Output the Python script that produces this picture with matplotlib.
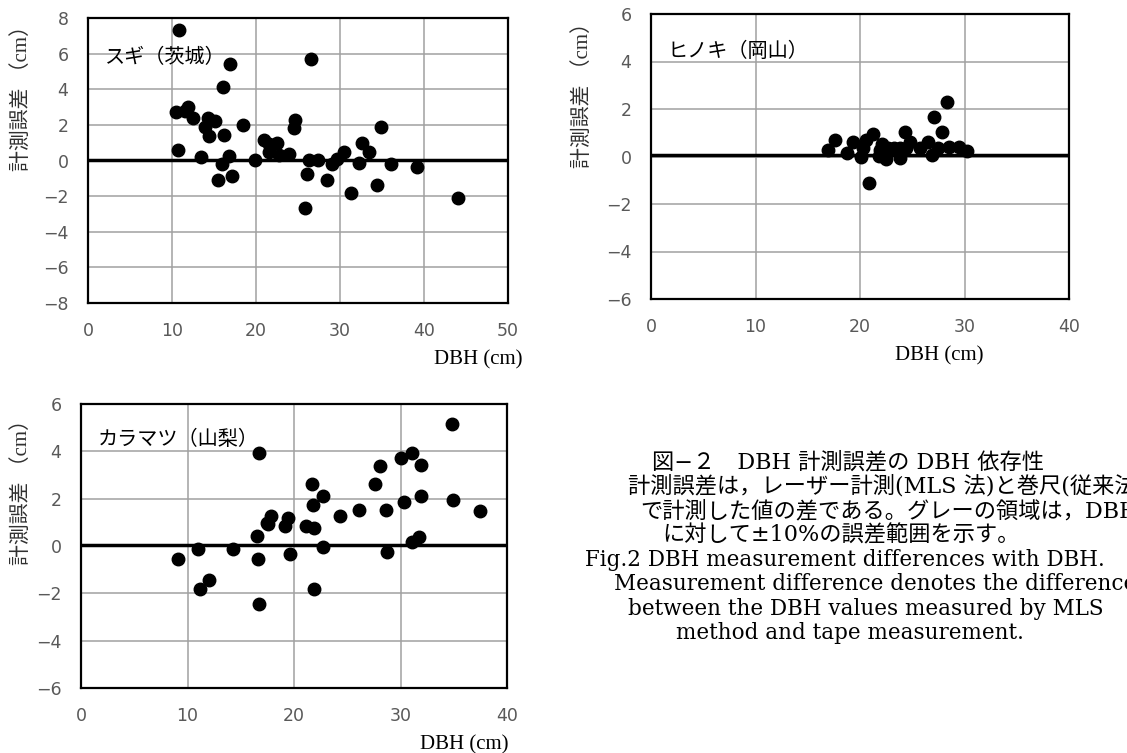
import matplotlib.pyplot as plt

plt.rcParams['font.family'] = ['DejaVu Sans', 'Noto Sans CJK JP']

# スギ(茨城)
sugi_dbh = [10.8, 10.5, 11.5, 11.9, 12.5, 10.7, 16.9, 16.1, 14.3, 15.1, 13.9, 14.4, 16.2, 18.4,
            13.5, 15.9, 16.8, 15.5, 17.1, 19.9, 20.9, 21.6, 21.6, 22.5, 22.7, 23.9, 24.7, 24.5,
            26.5, 26.3, 26.1, 27.4, 25.8, 28.5, 29.0, 29.7, 30.5, 31.3, 32.3, 32.6, 33.4, 34.4,
            34.9, 36.1, 39.2, 44.1]
sugi_err = [7.3, 2.7, 2.8, 3.0, 2.4, 0.6, 5.4, 4.1, 2.4, 2.2, 1.9, 1.35, 1.45, 2.0,
            0.2, -0.2, 0.25, -1.1, -0.85, 0.05, 1.15, 0.9, 0.47, 1.0, 0.3, 0.35, 2.3, 1.85,
            5.7, 0.05, -0.75, 0.05, -2.65, -1.1, -0.2, 0.1, 0.45, -1.85, -0.15, 1.0, 0.45, -1.35,
            1.9, -0.2, -0.35, -2.1]

# ヒノキ(岡山)
hinoki_dbh = [16.9, 17.6, 18.8, 19.3, 20.1, 20.3, 20.6, 21.2, 20.9, 21.8, 21.9, 22.1, 22.2,
              22.5, 22.7, 23.3, 23.8, 23.8, 24.3, 24.4, 24.8, 25.7, 26.5, 26.9, 27.1, 27.5,
              27.8, 28.3, 28.5, 29.5, 30.2]
hinoki_err = [0.27, 0.7, 0.13, 0.63, -0.04, 0.36, 0.7, 0.93, -1.1, 0.03, 0.27, 0.53, 0.13,
              -0.1, 0.36, 0.36, -0.07, 0.36, 1.03, 0.36, 0.6, 0.34, 0.6, 0.05, 1.67, 0.36,
              1.05, 2.29, 0.4, 0.4, 0.25]

# カラマツ(山梨)
karamatsu_dbh = [9.1, 10.95, 11.2, 12.05, 14.3, 16.7, 16.5, 16.6, 16.75, 17.5, 17.8, 17.6,
                 19.2, 19.4, 19.6, 21.1, 21.9, 21.7, 21.75, 21.9, 22.7, 22.7, 24.3, 26.1,
                 27.6, 28.1, 28.6, 28.7, 30.0, 30.3, 31.1, 31.9, 31.9, 31.1, 31.7, 34.8,
                 34.9, 37.5]
karamatsu_err = [-0.54, -0.14, -1.83, -1.42, -0.14, 3.94, 0.42, -0.55, -2.47, 0.99, 1.26, 0.94,
                 0.83, 1.2, -0.32, 0.85, 0.78, 2.62, 1.73, -1.83, 2.13, -0.06, 1.26, 1.52,
                 2.62, 3.39, 1.52, -0.25, 3.72, 1.86, 3.94, 3.44, 2.13, 0.17, 0.38, 5.16,
                 1.95, 1.47]

# name, x, y, xlim, ylim, axes box (px: left, top, right, bottom), ylabel center (px), title y, xlabel x
panels = [
    ("スギ（茨城）", sugi_dbh, sugi_err, (0, 50), (-8, 8), [88, 18, 508, 303], (22, 93), 0.86, 0.93),
    ("ヒノキ（岡山）", hinoki_dbh, hinoki_err, (0, 40), (-6, 6), [651, 14, 1069, 299], (583, 90), 0.87, 0.69),
    ("カラマツ（山梨）", karamatsu_dbh, karamatsu_err, (0, 40), (-6, 6), [81, 404, 507, 688], (22, 487), 0.875, 0.9),
]

W, H = 1127, 753
fig = plt.figure(figsize=(W / 100, H / 100), dpi=100)

for name, xs, ys, xlim, ylim, box, lab, ty, lx in panels:
    l, t, r, b = box
    ax = fig.add_axes([l / W, 1 - b / H, (r - l) / W, (b - t) / H])
    ax.set_xlim(*xlim)
    ax.set_ylim(*ylim)
    ax.set_xticks(range(xlim[0], xlim[1] + 1, 10))
    ax.set_yticks(range(ylim[0], ylim[1] + 1, 2))
    ax.grid(True, color='#a0a0a0', linewidth=1.1)
    ax.set_axisbelow(True)
    for s in ax.spines.values():
        s.set_color('black')
        s.set_linewidth(1.6)
    ax.tick_params(length=0, labelsize=12.5, labelcolor='#595959', pad=14)
    ax.axhline(0.05, color='black', linewidth=2.5, zorder=2)
    ax.plot(xs, ys, 'o', color='black', markersize=9, zorder=3)
    ax.text(0.04, ty, name, transform=ax.transAxes, fontsize=14.5,
            family=['Noto Sans CJK JP'], color='black', va='center')
    fig.text(lab[0] / W, 1 - lab[1] / H, "計測誤差 （cm）", rotation=90, ha='center', va='center',
             fontsize=15, color='#303030', family=['Liberation Serif', 'Noto Sans CJK JP'])
    ax.set_xlabel("DBH (cm)", family=['Liberation Serif'], fontsize=15, color='black')
    ax.xaxis.set_label_coords(lx, -0.165)

# caption (the reference crops the longer lines at the right edge)
caption = [
    "図−２　DBH 計測誤差の DBH 依存性",
    "計測誤差は，レーザー計測(MLS 法)と巻尺(従来法)",
    "で計測した値の差である。グレーの領域は，DBH",
    "に対して±10%の誤差範囲を示す。",
    "Fig.2 DBH measurement differences with DBH.",
    "Measurement difference denotes the difference",
    "between the DBH values measured by MLS",
    "method and tape measurement.",
]
starts = [652, 628, 640, 662, 585, 614, 628, 676]
for i, line in enumerate(caption):
    fig.text(starts[i] / W, 1 - (462 + i * 24.5) / H, line, ha='left', va='center',
             fontsize=16 if i < 4 else 15.5, family=['DejaVu Serif', 'Noto Sans CJK JP'])

plt.savefig("out.png", dpi=100)
